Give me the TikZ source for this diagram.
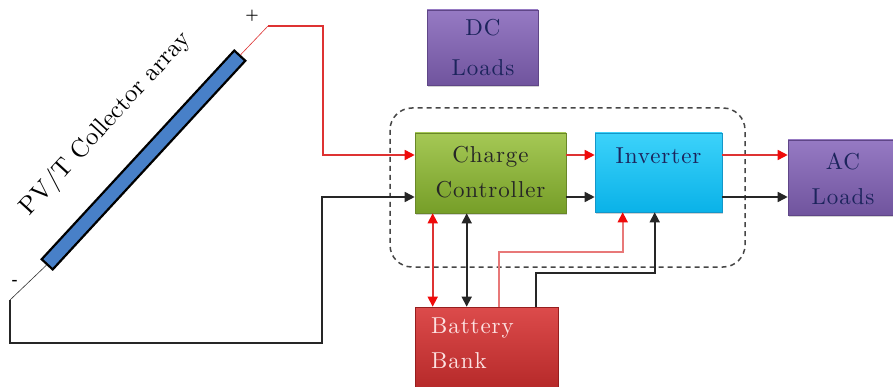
\documentclass[tikz,border=0pt]{standalone}
\usepackage{fontspec}
\setmainfont{lmroman10-regular.otf}[LetterSpace=4, BoldFont=lmroman10-bold.otf]
\newfontfamily\plainlm{lmroman10-regular.otf}
\usetikzlibrary{arrows.meta,calc,shadows}
\definecolor{gtop}{RGB}{165,200,85}
\definecolor{gbot}{RGB}{118,158,40}
\definecolor{gline}{RGB}{105,135,40}
\definecolor{ctop}{RGB}{60,210,250}
\definecolor{cbot}{RGB}{10,178,232}
\definecolor{cline}{RGB}{20,150,200}
\definecolor{ptop}{RGB}{150,122,195}
\definecolor{pbot}{RGB}{112,84,158}
\definecolor{pline}{RGB}{95,70,135}
\definecolor{rtop}{RGB}{220,75,75}
\definecolor{rbot}{RGB}{178,38,38}
\definecolor{rline}{RGB}{150,30,30}
\definecolor{panelblue}{RGB}{72,128,200}
\definecolor{wirered}{RGB}{222,50,50}
\definecolor{tipred}{RGB}{240,10,10}
\definecolor{pinkwire}{RGB}{232,120,120}
\definecolor{navytext}{RGB}{28,36,92}
\definecolor{dashgray}{RGB}{70,70,70}
\definecolor{battext}{RGB}{252,225,225}
\tikzset{
  blockbox/.style={rectangle, inner sep=0pt, line width=0.6pt,
    drop shadow={shadow xshift=1.2pt, shadow yshift=-1.8pt, opacity=0.35}},
  greenbox/.style={blockbox, draw=gline, top color=gtop, bottom color=gbot},
  cyanbox/.style={blockbox, draw=cline, top color=ctop, bottom color=cbot},
  purplebox/.style={blockbox, draw=pline, top color=ptop, bottom color=pbot},
  redbox/.style={blockbox, draw=rline, top color=rtop, bottom color=rbot},
  boxtext/.style={align=center, inner sep=0pt, font={\fontsize{23}{35}\selectfont}},
  redarrow/.style={draw=wirered, line width=1.6pt, -{Triangle[length=10pt,width=10pt,color=tipred]}},
  blackarrow/.style={draw=black!85, line width=1.6pt, -{Triangle[length=10pt,width=10pt]}},
  reddouble/.style={draw=wirered, line width=1.6pt, {Triangle[length=10pt,width=10pt,color=tipred]}-{Triangle[length=10pt,width=10pt,color=tipred]}},
  blackdouble/.style={draw=black!85, line width=1.6pt, {Triangle[length=10pt,width=10pt]}-{Triangle[length=10pt,width=10pt]}},
  pinkarrow/.style={draw=pinkwire, line width=1.6pt, -{Triangle[length=10pt,width=10pt,color=tipred]}},
  leadwire/.style={line width=0.6pt},
}
\begin{document}
\begin{tikzpicture}[x=1pt,y=-1pt]
\useasboundingbox (0,0) rectangle (893,387);
\clip (0,0) rectangle (893,387);
\fill[white] (0,0) rectangle (893,387);

% dashed enclosure
\draw[dashgray, line width=1.5pt, dash pattern=on 5pt off 4pt, rounded corners=22pt]
  (390,108) rectangle (745,267);

% PV panel
\node[draw=black, line width=2.2pt, fill=panelblue, rectangle, inner sep=0pt,
  minimum width=284pt, minimum height=15pt, rotate=47.3] (pv) at (143.5,160) {};
\node[rotate=47.5, font={\plainlm\fontsize{25}{28}\selectfont}, inner sep=0pt] (pvlabel) at (106,124) {PV/T Collector array};
\node[font={\fontsize{15}{15}\selectfont\bfseries}, inner sep=0pt] (plus) at (252,16) {+};
\node[font={\fontsize{15}{15}\selectfont\bfseries}, inner sep=0pt] (minus) at (15,282) {-};

% blocks
\node[greenbox, minimum width=151pt, minimum height=80pt] (ctrl) at (490.5,173) {};
\node[boxtext, text=black!85] (ctrltext) at (490.5,172) {Charge\\Controller};
\node[cyanbox, minimum width=127pt, minimum height=79pt] (inv) at (658.5,172.5) {};
\node[boxtext, text=navytext] (invtext) at (658.5,156) {Inverter};
\node[purplebox, minimum width=111pt, minimum height=75pt] (dc) at (482.5,47.5) {};
\node[boxtext, text=navytext, font={\fontsize{23}{40}\selectfont}] (dctext) at (483,48) {DC\\Loads};
\node[purplebox, minimum width=115pt, minimum height=75pt] (ac) at (845.5,177.5) {};
\node[boxtext, text=navytext] (actext) at (843,179) {AC\\Loads};
\node[redbox, minimum width=143pt, minimum height=90pt] (bat) at (486.5,352) {};
\node[boxtext, text=battext, align=left, anchor=north west] (battext) at (431,318) {Battery\\Bank};

% helper coordinates on block edges
\coordinate (cwr) at ($(ctrl.west)+(0,-18)$);
\coordinate (cwb) at ($(ctrl.west)+(0,24)$);
\coordinate (cer) at ($(ctrl.east)+(0,-18)$);
\coordinate (ceb) at ($(ctrl.east)+(0,24)$);
\coordinate (ier) at ($(inv.east)+(0,-17.5)$);
\coordinate (ieb) at ($(inv.east)+(0,24.5)$);
\coordinate (csr) at ($(ctrl.south west)+(18,0)$);
\coordinate (csb) at ($(ctrl.south west)+(52,0)$);
\coordinate (isr) at ($(inv.south west)+(28,0)$);
\coordinate (isb) at ($(inv.south west)+(60,0)$);
\coordinate (bnp) at ($(bat.north west)+(84,0)$);
\coordinate (bnb) at ($(bat.north west)+(121,0)$);

% wiring from panel
\coordinate (ptop) at (268,26);
\coordinate (pturn) at (323,26);
\coordinate (nlow) at (10,300);
\coordinate (ncorner) at (10,343);
\coordinate (nturn) at (322,343);
\draw[wirered, leadwire] (pv.east) -- (ptop);
\draw[redarrow] (ptop) -- (pturn) |- (cwr);
\draw[black!80, leadwire] (pv.west) -- (nlow);
\draw[blackarrow] (nlow) -- (ncorner) -- (nturn) |- (cwb);

% controller -> inverter
\draw[redarrow] (cer) -- (cer -| inv.west);
\draw[blackarrow] (ceb) -- (ceb -| inv.west);

% inverter -> AC loads
\draw[redarrow] (ier) -- (ier -| ac.west);
\draw[blackarrow] (ieb) -- (ieb -| ac.west);

% controller <-> battery
\draw[reddouble] (csr) -- (csr |- bat.north);
\draw[blackdouble] (csb) -- (csb |- bat.north);

% battery -> inverter
\draw[pinkarrow] (bnp) -- (bnp |- 0,252) -| (isr);
\draw[blackarrow] (bnb) -- (bnb |- 0,273) -| (isb);
\end{tikzpicture}
\end{document}
